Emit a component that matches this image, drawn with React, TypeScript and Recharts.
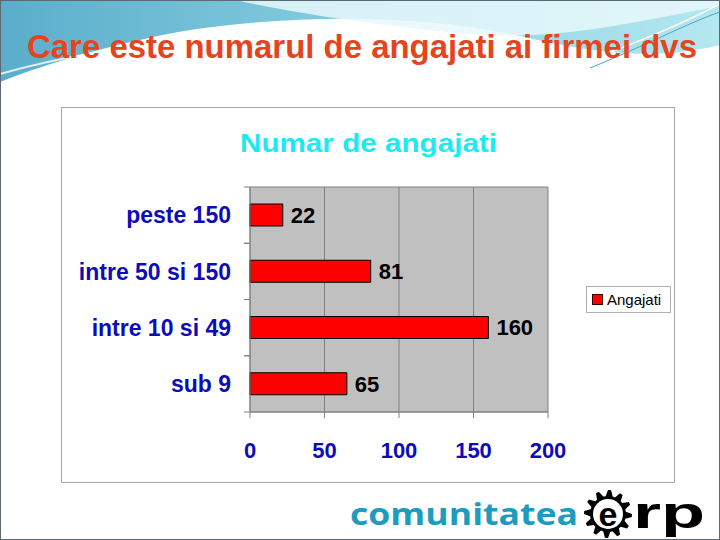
import { BarChart, Bar, XAxis, YAxis, CartesianGrid, Legend, LabelList } from 'recharts';

// values
const categories = ['peste 150', 'intre 50 si 150', 'intre 10 si 49', 'sub 9'];
const angajati = [22, 81, 160, 65];
const xTicks = [0, 50, 100, 150, 200];

const data = categories.map((name, i) => ({ name, value: angajati[i] }));

const FONT = '"Liberation Sans", Arial, sans-serif';
const BLUE = '#0c0cb8';
const PLOT_TOP = 187;
const PLOT_BOTTOM = 412;
const BAND = (PLOT_BOTTOM - PLOT_TOP) / categories.length;

// category label + Excel-style tick marks on band edges
function CategoryTick(props: any) {
  const { x, y, payload } = props;
  return (
    <g>
      <line x1={244} x2={250} y1={y - BAND / 2} y2={y - BAND / 2} stroke="#808080" />
      <line x1={244} x2={250} y1={y + BAND / 2} y2={y + BAND / 2} stroke="#808080" />
      <text
        x={x}
        y={y}
        dy="0.36em"
        textAnchor="end"
        fill={BLUE}
        fontSize={23}
        fontWeight="bold"
        fontFamily={FONT}
      >
        {payload.value}
      </text>
    </g>
  );
}

function LegendBox() {
  return (
    <div
      style={{
        boxSizing: 'border-box',
        width: 85,
        height: 27,
        border: '1px solid #b0b0b0',
        background: '#fff',
        display: 'flex',
        alignItems: 'center',
        paddingLeft: 5,
        fontFamily: FONT,
        fontSize: 15,
        color: '#000',
      }}
    >
      <span
        style={{
          display: 'inline-block',
          width: 9,
          height: 9,
          background: '#ff0000',
          border: '1px solid #400000',
          marginRight: 4,
        }}
      />
      Angajati
    </div>
  );
}

function gearPoints(cx: number, cy: number, rOut: number, rIn: number, teeth: number) {
  const pts: string[] = [];
  const step = (Math.PI * 2) / (teeth * 4);
  for (let i = 0; i < teeth * 4; i++) {
    const r = i % 4 < 2 ? rOut : rIn;
    const a = i * step;
    pts.push(`${(cx + r * Math.cos(a)).toFixed(1)},${(cy + r * Math.sin(a)).toFixed(1)}`);
  }
  return pts.join(' ');
}

export default function App() {
  return (
    <div style={{ position: 'absolute', left: 0, top: 0, width: 720, height: 540, background: '#fff', overflow: 'hidden' }}>
      <svg width={720} height={540} style={{ position: 'absolute', left: 0, top: 0 }}>
        <defs>
          <linearGradient id="sky" x1="0" y1="0" x2="1" y2="0">
            <stop offset="0" stopColor="#5aaecb" />
            <stop offset="0.5" stopColor="#86cde0" />
            <stop offset="1" stopColor="#b5e8f0" />
          </linearGradient>
        </defs>
        <path
          d="M0,0 H720 V45 C650,62 590,52 520,36 C420,14 300,14 190,30 C120,42 50,62 0,82 Z"
          fill="url(#sky)"
        />
        <path d="M235,0 C300,14 380,26 470,34 C540,40 600,30 720,6 V0 Z" fill="#e8f8fb" opacity={0.85} />
        <path d="M0,74 C120,40 260,30 400,46" stroke="#ffffff" strokeWidth={2} fill="none" opacity={0.8} />
        <path d="M560,70 C620,50 680,25 720,4" stroke="#ffffff" strokeWidth={1.5} fill="none" />
        <path d="M590,68 C640,48 690,22 720,12" stroke="#4aa8c4" strokeWidth={1} fill="none" />
        <rect x={0.5} y={0.5} width={719} height={539} fill="none" stroke="#5a6a70" />
        <rect x={61.5} y={107.5} width={613} height={375} fill="#fff" stroke="#a8a8a8" />
      </svg>

      <BarChart
        width={720}
        height={540}
        layout="vertical"
        data={data}
        // the legend reserves its width on the right, hence 172 - 85
        margin={{ top: PLOT_TOP, right: 87, left: 60, bottom: 78 }}
        style={{ position: 'absolute', left: 0, top: 0 }}
      >
        <CartesianGrid
          fill="#c0c0c0"
          stroke="#808080"
          horizontalCoordinatesGenerator={() => [PLOT_TOP, PLOT_BOTTOM]}
        />
        <XAxis
          type="number"
          domain={[0, 200]}
          ticks={xTicks}
          height={50}
          tickSize={6}
          tickMargin={24}
          axisLine={{ stroke: '#808080' }}
          tickLine={{ stroke: '#808080' }}
          tick={{ fill: BLUE, fontSize: 22, fontWeight: 'bold', fontFamily: FONT }}
        />
        <YAxis
          type="category"
          dataKey="name"
          width={190}
          tickSize={6}
          tickMargin={13}
          tickLine={false}
          axisLine={{ stroke: '#808080' }}
          tick={<CategoryTick />}
        />
        <Legend
          layout="horizontal"
          verticalAlign="middle"
          align="right"
          wrapperStyle={{ left: 586, top: 286, width: 85, height: 27 }}
          content={() => <LegendBox />}
        />
        <Bar dataKey="value" name="Angajati" fill="#ff0000" stroke="#000" strokeWidth={1} barSize={22} isAnimationActive={false}>
          <LabelList
            dataKey="value"
            position="right"
            offset={8}
            fill="#000"
            fontSize={22}
            fontWeight="bold"
            fontFamily={FONT}
          />
        </Bar>
      </BarChart>

      <svg width={720} height={540} style={{ position: 'absolute', left: 0, top: 0, pointerEvents: 'none' }}>
        <text
          x={27}
          y={58}
          textLength={670}
          lengthAdjust="spacingAndGlyphs"
          fill="#e4441e"
          fontSize={33}
          fontWeight="bold"
          fontFamily={FONT}
        >
          Care este numarul de angajati ai firmei dvs
        </text>
        <text
          x={240}
          y={152}
          textLength={257}
          lengthAdjust="spacingAndGlyphs"
          fill="#1ee8f2"
          fontSize={26}
          fontWeight="bold"
          fontFamily={FONT}
        >
          Numar de angajati
        </text>
        <text
          x={350}
          y={525}
          textLength={228}
          lengthAdjust="spacingAndGlyphs"
          fill="#1e9cbf"
          fontSize={31}
          fontWeight={700}
          fontFamily='"Open Sans", sans-serif'
        >
          comunitatea
        </text>
        <polygon points={gearPoints(608, 514, 24, 18, 12)} fill="#000" />
        <circle cx={608} cy={514} r={15} fill="#fff" />
        <text x={608} y={526} textAnchor="middle" fill="#000" fontSize={34} fontWeight={900} fontFamily={FONT}>
          e
        </text>
        <text
          x={633}
          y={528}
          textLength={72}
          lengthAdjust="spacingAndGlyphs"
          fill="#000"
          fontSize={44}
          fontWeight={900}
          fontFamily={FONT}
        >
          rp
        </text>
      </svg>
    </div>
  );
}
